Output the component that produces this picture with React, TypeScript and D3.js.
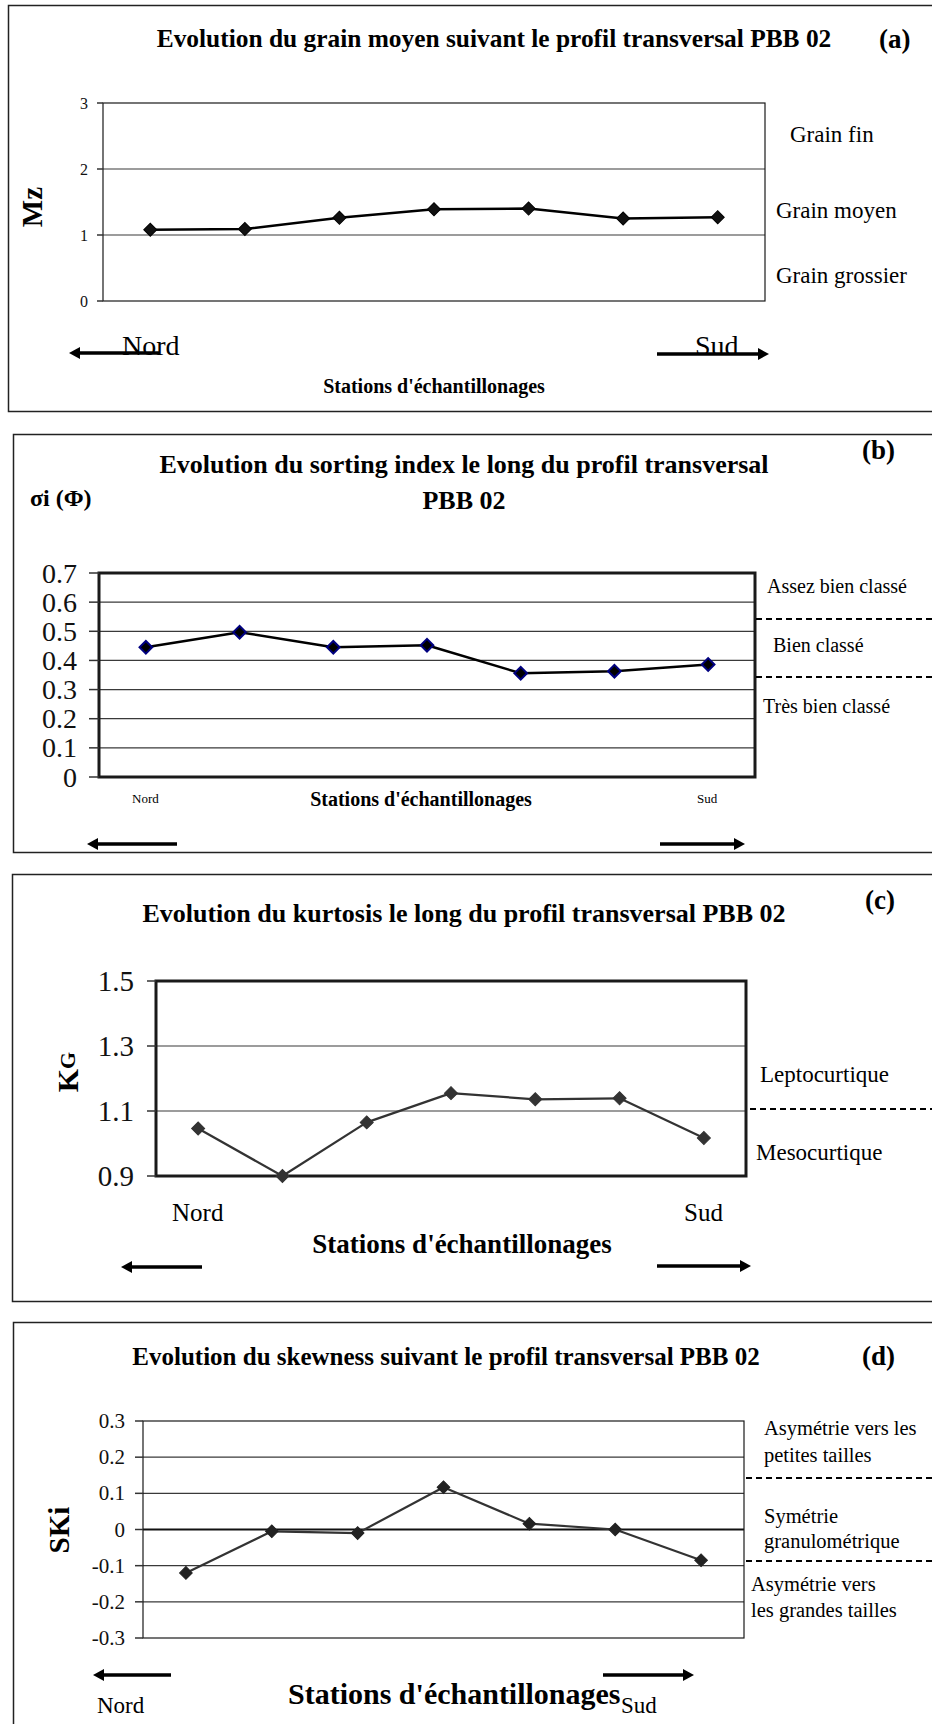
import React from 'react';
import * as d3 from 'd3';

const stations = ['S1', 'S2', 'S3', 'S4', 'S5', 'S6', 'S7'];

const mzValues = [1.08, 1.09, 1.26, 1.39, 1.4, 1.25, 1.27];
const mzTicks = [0, 1, 2, 3];

const sortingValues = [0.445, 0.497, 0.445, 0.452, 0.356, 0.363, 0.386];
const sortingTicks = [0, 0.1, 0.2, 0.3, 0.4, 0.5, 0.6, 0.7];

const kurtosisValues = [1.046, 0.9, 1.065, 1.155, 1.136, 1.139, 1.017];
const kurtosisTicks = [0.9, 1.1, 1.3, 1.5];

const skewnessValues = [-0.12, -0.005, -0.01, 0.117, 0.016, 0.0, -0.085];
const skewnessTicks = [-0.3, -0.2, -0.1, 0, 0.1, 0.2, 0.3];

const FONT = '"Liberation Serif", "Times New Roman", serif';

type CoreProps = {
  values: number[];
  ticks: number[];
  left: number; right: number; top: number; bottom: number;
  frameW: number;
  tickFont: number;
  labelRight: number;
  tickLen: number;
  lineColor: string;
  lineW: number;
  markerFill: string;
  markerStroke: string;
  markerStrokeW: number;
  markerSize: number;
  zeroLine?: boolean;
  fmt: (v: number) => string;
};

function PlotCore(p: CoreProps) {
  const x = d3.scalePoint<string>().domain(stations).range([p.left, p.right]).padding(0.5);
  const ext = d3.extent(p.ticks) as [number, number];
  const y = d3.scaleLinear().domain(ext).range([p.bottom, p.top]);
  const line = d3.line<number>().x((_, i) => x(stations[i]) as number).y((d) => y(d));
  const sym = d3.symbol().type(d3.symbolSquare).size(p.markerSize)();
  return (
    <g>
      {p.ticks.filter((t) => t !== ext[0] && t !== ext[1]).map((t) => (
        <line key={'g' + t} x1={p.left} x2={p.right} y1={y(t)} y2={y(t)}
          stroke={p.zeroLine && t === 0 ? '#111' : '#3a3a3a'} strokeWidth={p.zeroLine && t === 0 ? 2 : 1.2} />
      ))}
      <rect x={p.left} y={p.top} width={p.right - p.left} height={p.bottom - p.top}
        fill="none" stroke="#1a1a1a" strokeWidth={p.frameW} />
      {p.ticks.map((t) => (
        <g key={'t' + t}>
          <line x1={p.left - p.tickLen} x2={p.left} y1={y(t)} y2={y(t)} stroke="#333" strokeWidth={1.5} />
          <text x={p.labelRight} y={y(t)} textAnchor="end" dominantBaseline="central"
            fontSize={p.tickFont} fontFamily={FONT} fill="#111">{p.fmt(t)}</text>
        </g>
      ))}
      <path d={line(p.values) || ''} fill="none" stroke={p.lineColor} strokeWidth={p.lineW} strokeLinejoin="round" />
      {p.values.map((v, i) => (
        <path key={'m' + i} d={sym || ''}
          transform={`translate(${x(stations[i])},${y(v)}) rotate(45)`}
          fill={p.markerFill} stroke={p.markerStroke} strokeWidth={p.markerStrokeW} />
      ))}
    </g>
  );
}

function Arrow({ x1, x2, y, w = 3.5, head = 11, hw = 6 }: { x1: number; x2: number; y: number; w?: number; head?: number; hw?: number }) {
  const dir = Math.sign(x2 - x1);
  const base = x2 - dir * head;
  return (
    <g>
      <line x1={x1} x2={base} y1={y} y2={y} stroke="#000" strokeWidth={w} />
      <path d={`M${x2},${y} L${base},${y - hw} L${base},${y + hw} Z`} fill="#000" />
    </g>
  );
}

function Txt(props: any) {
  const { children, size, bold, anchor, ...rest } = props;
  return (
    <text fontFamily={FONT} fontSize={size} fontWeight={bold ? 'bold' : 'normal'}
      textAnchor={anchor || 'start'} fill="#000" {...rest}>{children}</text>
  );
}

function Dashed({ x1, y }: { x1: number; y: number }) {
  return <line x1={x1} x2={940} y1={y} y2={y} stroke="#000" strokeWidth={2} strokeDasharray="6 4" />;
}

export default function App() {
  const f1 = (v: number) => String(v);
  const f2 = (v: number) => (Math.abs(v) < 1e-9 ? '0' : v.toFixed(1));
  return (
    <svg width={932} height={1724} viewBox="0 0 932 1724"
      style={{ position: 'absolute', left: 0, top: 0, background: '#fff' }}>
      <rect x={0} y={0} width={932} height={1724} fill="#fff" />

      {/* Panel (a) */}
      <rect x={8.5} y={5.5} width={940} height={406} fill="none" stroke="#222" strokeWidth={1.5} />
      <Txt x={494} y={47} size={25.4} bold anchor="middle">Evolution du grain moyen suivant le profil transversal PBB 02</Txt>
      <Txt x={879} y={48} size={27} bold>(a)</Txt>
      <PlotCore values={mzValues} ticks={mzTicks} left={103} right={765} top={103} bottom={301}
        frameW={1.2} tickFont={16} labelRight={88} tickLen={6} lineColor="#000" lineW={2.5}
        markerFill="#111" markerStroke="#000" markerStrokeW={1} markerSize={85} fmt={f1} />
      <Txt size={29} bold anchor="middle" dominantBaseline="central" transform="translate(32,207) rotate(-90)">Mz</Txt>
      <Txt x={790} y={142} size={23}>Grain fin</Txt>
      <Txt x={776} y={218} size={23}>Grain moyen</Txt>
      <Txt x={776} y={283} size={23}>Grain grossier</Txt>
      <Txt x={122} y={355} size={28}>Nord</Txt>
      <Txt x={695} y={355} size={28}>Sud</Txt>
      <Arrow x1={160} x2={69} y={353} />
      <Arrow x1={657} x2={769} y={354} />
      <Txt x={434} y={393} size={20} bold anchor="middle">Stations d'échantillonages</Txt>

      {/* Panel (b) */}
      <rect x={13.5} y={434.5} width={940} height={418} fill="none" stroke="#222" strokeWidth={1.5} />
      <Txt x={464} y={473} size={26} bold anchor="middle">Evolution du sorting index le long du profil transversal</Txt>
      <Txt x={464} y={509} size={26} bold anchor="middle">PBB 02</Txt>
      <Txt x={862} y={459} size={27} bold>(b)</Txt>
      <Txt x={30} y={506} size={24} bold>σi (Φ)</Txt>
      <PlotCore values={sortingValues} ticks={sortingTicks} left={99} right={755} top={573} bottom={777}
        frameW={3} tickFont={28} labelRight={77} tickLen={10} lineColor="#000" lineW={2.5}
        markerFill="#000" markerStroke="#000080" markerStrokeW={2} markerSize={80} fmt={f2} />
      <Txt x={767} y={593} size={20}>Assez bien classé</Txt>
      <Txt x={773} y={652} size={20}>Bien classé</Txt>
      <Txt x={763} y={713} size={20}>Très bien classé</Txt>
      <Dashed x1={756} y={619} />
      <Dashed x1={756} y={677} />
      <Txt x={132} y={803} size={13}>Nord</Txt>
      <Txt x={697} y={803} size={13}>Sud</Txt>
      <Txt x={421} y={806} size={20} bold anchor="middle">Stations d'échantillonages</Txt>
      <Arrow x1={177} x2={87} y={844} />
      <Arrow x1={660} x2={745} y={844} />

      {/* Panel (c) */}
      <rect x={12.5} y={874.5} width={940} height={427} fill="none" stroke="#222" strokeWidth={1.5} />
      <Txt x={464} y={922} size={26} bold anchor="middle">Evolution du kurtosis le long du profil transversal PBB 02</Txt>
      <Txt x={865} y={909} size={27} bold>(c)</Txt>
      <PlotCore values={kurtosisValues} ticks={kurtosisTicks} left={156} right={746} top={981} bottom={1176}
        frameW={3} tickFont={29} labelRight={134} tickLen={9} lineColor="#333" lineW={2.2}
        markerFill="#333" markerStroke="#333" markerStrokeW={1} markerSize={85} fmt={f1} />
      <text fontFamily={FONT} fontWeight="bold" textAnchor="middle" dominantBaseline="central"
        transform="translate(67,1072) rotate(-90)">
        <tspan fontSize={30}>K</tspan><tspan fontSize={22}>G</tspan>
      </text>
      <Txt x={760} y={1082} size={23}>Leptocurtique</Txt>
      <Txt x={756} y={1160} size={23}>Mesocurtique</Txt>
      <Dashed x1={750} y={1109} />
      <Txt x={172} y={1221} size={25}>Nord</Txt>
      <Txt x={684} y={1221} size={25}>Sud</Txt>
      <Txt x={462} y={1253} size={27} bold anchor="middle">Stations d'échantillonages</Txt>
      <Arrow x1={202} x2={121} y={1267} />
      <Arrow x1={657} x2={751} y={1266} />

      {/* Panel (d) */}
      <rect x={13.5} y={1322.5} width={940} height={440} fill="none" stroke="#222" strokeWidth={1.5} />
      <Txt x={446} y={1365} size={25} bold anchor="middle">Evolution du skewness suivant le profil transversal PBB 02</Txt>
      <Txt x={862} y={1365} size={27} bold>(d)</Txt>
      <PlotCore values={skewnessValues} ticks={skewnessTicks} left={143} right={744} top={1421} bottom={1638}
        frameW={1.2} tickFont={21} labelRight={125} tickLen={8} lineColor="#333" lineW={2.2}
        markerFill="#222" markerStroke="#222" markerStrokeW={1} markerSize={80} zeroLine fmt={f2} />
      <Txt size={29} bold anchor="middle" dominantBaseline="central" transform="translate(59,1530) rotate(-90)">SKi</Txt>
      <Txt x={764} y={1435} size={20.5}>Asymétrie vers les</Txt>
      <Txt x={764} y={1462} size={20.5}>petites tailles</Txt>
      <Txt x={764} y={1523} size={20.5}>Symétrie</Txt>
      <Txt x={764} y={1548} size={20.5}>granulométrique</Txt>
      <Txt x={751} y={1591} size={20.5}>Asymétrie vers</Txt>
      <Txt x={751} y={1617} size={20.5}>les grandes tailles</Txt>
      <Dashed x1={746} y={1478} />
      <Dashed x1={746} y={1561} />
      <Arrow x1={171} x2={93} y={1675} />
      <Arrow x1={603} x2={694} y={1675} />
      <Txt x={97} y={1713} size={23}>Nord</Txt>
      <Txt x={288} y={1704} size={30} bold>Stations d'échantillonages</Txt>
      <Txt x={621} y={1713} size={23}>Sud</Txt>
    </svg>
  );
}
